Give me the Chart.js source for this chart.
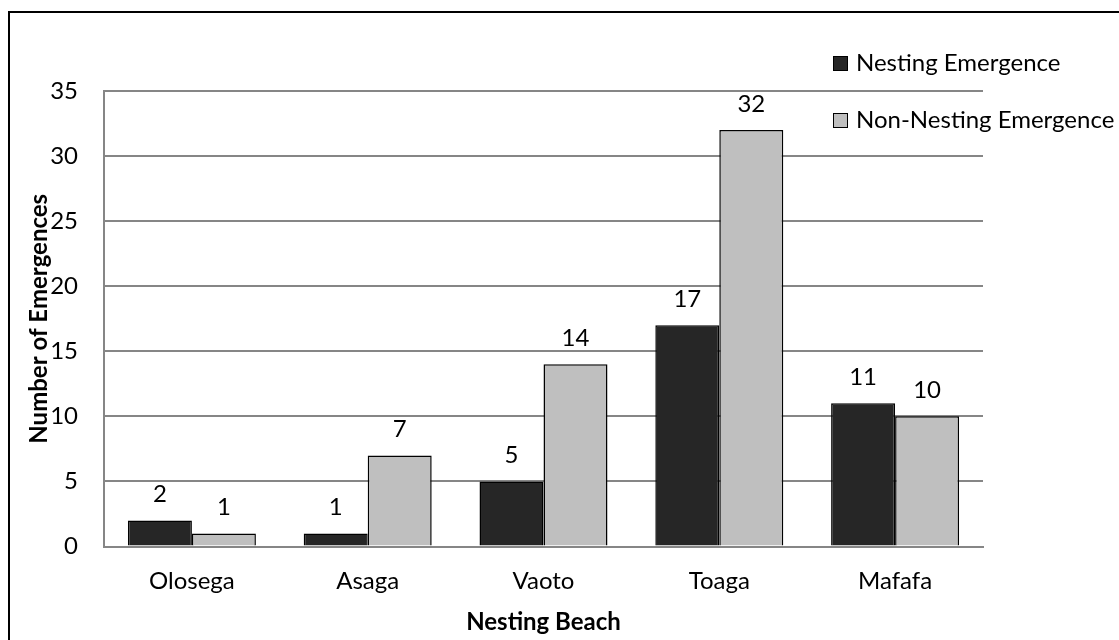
<!DOCTYPE html>
<html>
<head>
<meta charset="utf-8">
<script src="https://cdn.jsdelivr.net/npm/chart.js@4/dist/chart.umd.min.js"></script>
<style>
  html, body { margin: 0; padding: 0; background: #ffffff; }
  #wrap { position: relative; width: 1119px; height: 640px; overflow: hidden; }
  #frame {
    position: absolute; left: 8px; top: 11px; width: 1200px; height: 700px;
    border-left: 2px solid #000; border-top: 2px solid #000; box-sizing: border-box;
  }
  #c { position: absolute; left: 0; top: 0; }
</style>
</head>
<body>
<div id="wrap">
  <div id="frame"></div>
  <canvas id="c" width="1119" height="640"></canvas>
</div>
<script>
// Emergences recorded per nesting beach
const beaches = ['Olosega', 'Asaga', 'Vaoto', 'Toaga', 'Mafafa'];
const nestingEmergence = [2, 1, 5, 17, 11];
const nonNestingEmergence = [1, 7, 14, 32, 10];
const yTicks = [0, 5, 10, 15, 20, 25, 30, 35];

const FONT = 'Lato, "Open Sans", sans-serif';

// Value printed above every bar
const barValueLabels = {
  id: 'barValueLabels',
  afterDatasetsDraw(chart) {
    const ctx = chart.ctx;
    ctx.save();
    ctx.font = '24px ' + FONT;
    ctx.fillStyle = '#000';
    ctx.textAlign = 'center';
    ctx.textBaseline = 'middle';
    chart.data.datasets.forEach((ds, i) => {
      chart.getDatasetMeta(i).data.forEach((bar, j) => {
        ctx.fillText(String(ds.data[j]), bar.x, bar.y - 26);
      });
    });
    ctx.restore();
  }
};

// Legend stacked in the upper right corner
const cornerLegend = {
  id: 'cornerLegend',
  afterDraw(chart) {
    const ctx = chart.ctx;
    ctx.save();
    ctx.font = '24px ' + FONT;
    ctx.textBaseline = 'middle';
    ctx.textAlign = 'left';
    chart.data.datasets.forEach((ds, i) => {
      const cy = 63 + i * 57;
      ctx.fillStyle = ds.backgroundColor;
      ctx.fillRect(833, cy - 7, 15, 15);
      ctx.strokeStyle = '#000';
      ctx.lineWidth = 1;
      ctx.strokeRect(833.5, cy - 6.5, 14, 14);
      ctx.fillStyle = '#000';
      ctx.fillText(ds.label, 856, cy);
    });
    ctx.restore();
  }
};

new Chart(document.getElementById('c'), {
  type: 'bar',
  data: {
    labels: beaches,
    datasets: [
      {
        label: 'Nesting Emergence',
        data: nestingEmergence,
        backgroundColor: '#262626',
        borderColor: '#000000',
        borderWidth: 1.5
      },
      {
        label: 'Non-Nesting Emergence',
        data: nonNestingEmergence,
        backgroundColor: '#bfbfbf',
        borderColor: '#000000',
        borderWidth: 1.5
      }
    ]
  },
  options: {
    responsive: false,
    animation: false,
    devicePixelRatio: 1,
    layout: { padding: { left: 0, top: 91, right: 136, bottom: 0 } },
    datasets: { bar: { categoryPercentage: 0.728, barPercentage: 1.0 } },
    plugins: {
      legend: { display: false },
      tooltip: { enabled: false }
    },
    scales: {
      x: {
        grid: { display: false, drawTicks: false },
        border: { display: true, color: '#868686', width: 2 },
        ticks: { color: '#000', font: { family: FONT, size: 24 }, padding: 20 },
        title: {
          display: true,
          text: 'Nesting Beach',
          color: '#000',
          font: { family: FONT, size: 24, weight: 'bold' },
          padding: { top: 0, bottom: 3 }
        },
        afterFit(scale) { scale.height = 93.5; }
      },
      y: {
        min: 0,
        max: 35,
        afterBuildTicks(scale) { scale.ticks = yTicks.map(v => ({ value: v })); },
        grid: { color: '#868686', lineWidth: 2, drawTicks: false },
        border: { display: true, color: '#868686', width: 2 },
        ticks: { color: '#000', font: { family: FONT, size: 24 }, padding: 26 },
        title: {
          display: true,
          text: 'Number of Emergences',
          color: '#000',
          font: { family: FONT, size: 24, weight: 'bold' },
          padding: { top: 25, bottom: 0 }
        },
        afterFit(scale) { scale.width = 104; }
      }
    }
  },
  plugins: [barValueLabels, cornerLegend]
});
</script>
</body>
</html>
